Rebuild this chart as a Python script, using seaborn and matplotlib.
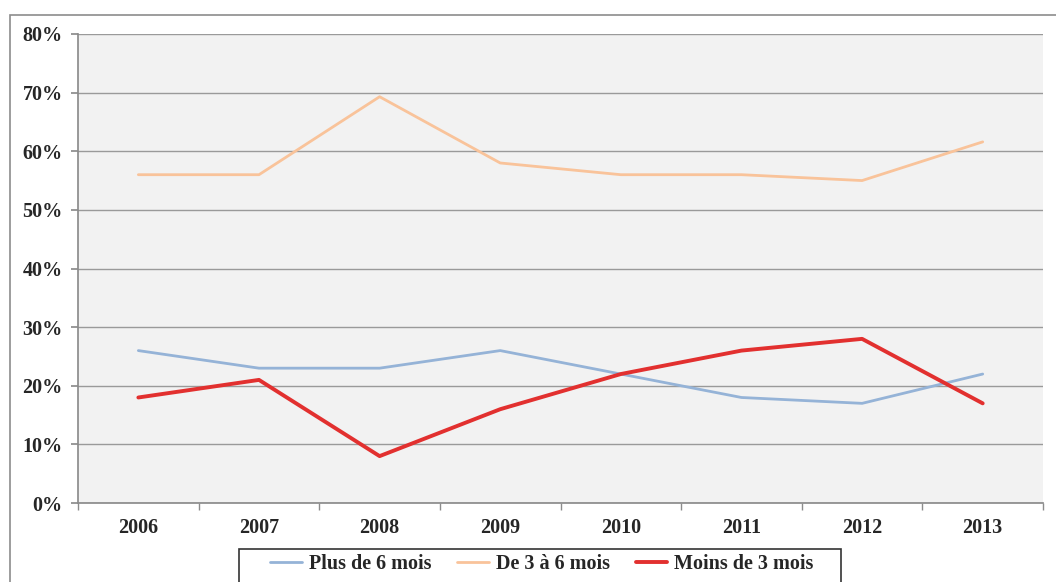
import numpy as np
import pandas as pd
import seaborn as sns
import matplotlib.pyplot as plt
from matplotlib.patches import Rectangle

# valeurs (en %)
years = ["2006", "2007", "2008", "2009", "2010", "2011", "2012", "2013"]
plus_6 = [26, 23, 23, 26, 22, 18, 17, 22]
de_3_a_6 = [56, 56, 69.3, 58, 56, 56, 55, 61.6]
moins_3 = [18, 21, 8, 16, 22, 26, 28, 17]
series_names = ["Plus de 6 mois", "De 3 à 6 mois", "Moins de 3 mois"]

sns.set_theme(style="white")
plt.rcParams["font.family"] = ["Liberation Serif", "DejaVu Serif"]
plt.rcParams["font.weight"] = "bold"

df = pd.DataFrame({"pos": np.arange(len(years))})
for name, vals in zip(series_names, [plus_6, de_3_a_6, moins_3]):
    df[name] = vals

fig = plt.figure(figsize=(10.56, 5.82), dpi=100)
ax = fig.add_axes([0.0739, 0.1357, 0.9138, 0.8059])
ax.set_facecolor("#f2f2f2")

# cadre du graphique
fig.patches.append(Rectangle((10 / 1056, -0.01), 1.0, 1 - 15 / 582 + 0.01,
                             transform=fig.transFigure, fill=False,
                             edgecolor="#8c8c8c", linewidth=1.2))

styles = {
    "Plus de 6 mois": ("#95b3d7", 2.0),
    "De 3 à 6 mois": ("#f9c39a", 2.0),
    "Moins de 3 mois": ("#e2302f", 2.8),
}
for name in series_names:
    color, lw = styles[name]
    sns.lineplot(df, x="pos", y=name, color=color, linewidth=lw, ax=ax, label=name, legend=False)

ax.set_xlim(-0.5, len(years) - 0.5)
ax.set_ylim(0, 80)
ax.set_yticks(range(0, 81, 10))
ax.set_yticklabels([f"{v}%" for v in range(0, 81, 10)], fontsize=14.5, fontweight="bold")
ax.set_xticks(range(len(years)))
ax.set_xticklabels(years, fontsize=14.5, fontweight="bold")
ax.set_xticks(np.arange(-0.5, len(years), 1), minor=True)
ax.tick_params(axis="x", which="major", length=0, pad=11)
ax.tick_params(axis="x", which="minor", length=5, color="#8c8c8c", bottom=True)
ax.tick_params(axis="y", length=5, color="#8c8c8c", left=True, pad=6)
ax.set_xlabel("")
ax.set_ylabel("")
ax.grid(axis="y", color="#9a9a9a", linewidth=1.0)
ax.set_axisbelow(True)
for side in ["top", "right"]:
    ax.spines[side].set_visible(False)
for side in ["left", "bottom"]:
    ax.spines[side].set_color("#8c8c8c")

# légende sous le graphique, cadre dessiné à part
fig.patches.append(Rectangle((239 / 1056, -0.01), (841 - 239) / 1056, 1 - 549 / 582 + 0.01,
                             transform=fig.transFigure, fill=False,
                             edgecolor="#333333", linewidth=1.2))
fig.legend(loc="center", bbox_to_anchor=(542 / 1056, 1 - 564 / 582), ncol=3,
           frameon=False, handlelength=1.55, columnspacing=1.3, handletextpad=0.35,
           borderpad=0.2, prop={"size": 14.5, "weight": "bold"})

fig.savefig("out.png", dpi=100)
